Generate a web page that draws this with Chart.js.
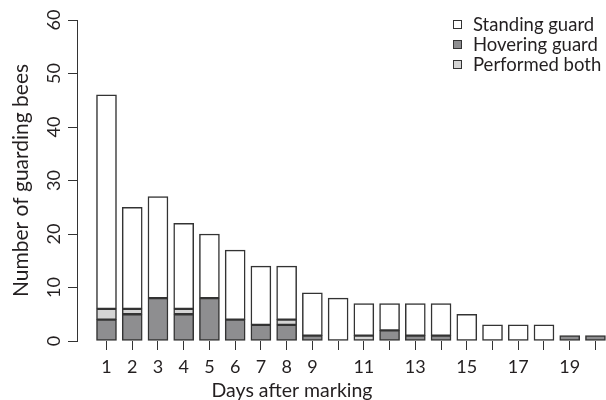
<!DOCTYPE html>
<html>
<head>
<meta charset="utf-8">
<script src="https://cdn.jsdelivr.net/npm/chart.js@4.4.1/dist/chart.umd.min.js"></script>
<style>
  html, body { margin: 0; padding: 0; background: #fff; overflow: hidden; }
</style>
</head>
<body>
<canvas id="guardChart" width="606" height="400"></canvas>
<script>
// days after marking and what the guards did
var days = [1, 2, 3, 4, 5, 6, 7, 8, 9, 10, 11, 12, 13, 14, 15, 16, 17, 18, 19, 20];
var tickLabels = ["1", "2", "3", "4", "5", "6", "7", "8", "9", "", "11", "", "13", "", "15", "", "17", "", "19", ""];
var hovering = [4, 5, 8, 5, 8, 4, 3, 3, 1, 0, 0, 2, 1, 1, 0, 0, 0, 0, 1, 1];
var both     = [2, 1, 0, 1, 0, 0, 0, 1, 0, 0, 1, 0, 0, 0, 0, 0, 0, 0, 0, 0];
var standing = [40, 19, 19, 16, 12, 13, 11, 10, 8, 8, 6, 5, 6, 6, 5, 3, 3, 3, 0, 0];
var yTicks = [0, 10, 20, 30, 40, 50, 60];

var textColor = "#231f20";
var lineColor = "#333333";
var xTitle = "Days after marking";

function pts(arr) {
    return days.map(function (d, i) { return { x: d, y: arr[i] }; });
}

// legend in the top right corner and the x title (centred like the R plot)
var legendOrder = [2, 0, 1];
var extras = {
    id: "extras",
    afterDraw: function (chart) {
        var ctx = chart.ctx;
        ctx.save();
        ctx.font = "18.5px Lato";
        ctx.textBaseline = "middle";
        legendOrder.forEach(function (di, i) {
            var ds = chart.data.datasets[di];
            var y = 24 + i * 20;
            ctx.fillStyle = ds.backgroundColor;
            ctx.fillRect(453, y - 4, 8, 8);
            ctx.strokeStyle = lineColor;
            ctx.lineWidth = 1;
            ctx.strokeRect(453.5, y - 3.5, 8, 8);
            ctx.fillStyle = textColor;
            ctx.fillText(ds.label, 473, y + 1);
        });
        ctx.font = "19.5px Lato";
        ctx.textAlign = "center";
        ctx.textBaseline = "alphabetic";
        ctx.fillText(xTitle, 292, 397);
        ctx.restore();
    }
};

var common = {
    borderColor: lineColor,
    borderWidth: 1.5,
    borderSkipped: false,
    barThickness: 20
};

new Chart("guardChart", {
    type: "bar",
    data: {
        datasets: [
            Object.assign({ label: "Hovering guard", data: pts(hovering), backgroundColor: "#8e8e90" }, common),
            Object.assign({ label: "Performed both", data: pts(both), backgroundColor: "#d4d4d4" }, common),
            Object.assign({ label: "Standing guard", data: pts(standing), backgroundColor: "#ffffff" }, common)
        ]
    },
    options: {
        responsive: false,
        animation: false,
        layout: { padding: { top: 20, right: 0, bottom: 0, left: 0 } },
        plugins: {
            legend: { display: false },
            tooltip: { enabled: false }
        },
        scales: {
            x: {
                type: "linear",
                stacked: true,
                offset: false,
                min: -0.146,
                max: 20.41,
                afterBuildTicks: function (scale) {
                    scale.ticks = days.map(function (d) { return { value: d }; });
                },
                afterFit: function (scale) { scale.height = 59; },
                border: { display: false },
                grid: {
                    offset: false,
                    drawOnChartArea: false,
                    drawTicks: true,
                    tickLength: 9,
                    tickColor: lineColor
                },
                ticks: {
                    autoSkip: false,
                    maxRotation: 0,
                    padding: 6,
                    color: textColor,
                    font: { family: "Lato", size: 18 },
                    callback: function (value, index) { return tickLabels[index]; }
                }
            },
            y: {
                stacked: true,
                min: 0,
                max: 60,
                afterBuildTicks: function (scale) {
                    scale.ticks = yTicks.map(function (v) { return { value: v }; });
                },
                afterFit: function (scale) { scale.width = 77; },
                border: { display: true, color: lineColor, width: 1 },
                grid: {
                    drawOnChartArea: false,
                    drawTicks: true,
                    tickLength: 9,
                    tickColor: lineColor
                },
                ticks: {
                    minRotation: 90,
                    maxRotation: 90,
                    crossAlign: "center",
                    padding: 3,
                    color: textColor,
                    font: { family: "Lato", size: 18 }
                },
                title: {
                    display: true,
                    text: "Number of guarding bees",
                    color: textColor,
                    font: { family: "Lato", size: 21, lineHeight: 1 },
                    padding: { top: 11, bottom: 0 }
                }
            }
        }
    },
    plugins: [extras]
});
</script>
</body>
</html>
